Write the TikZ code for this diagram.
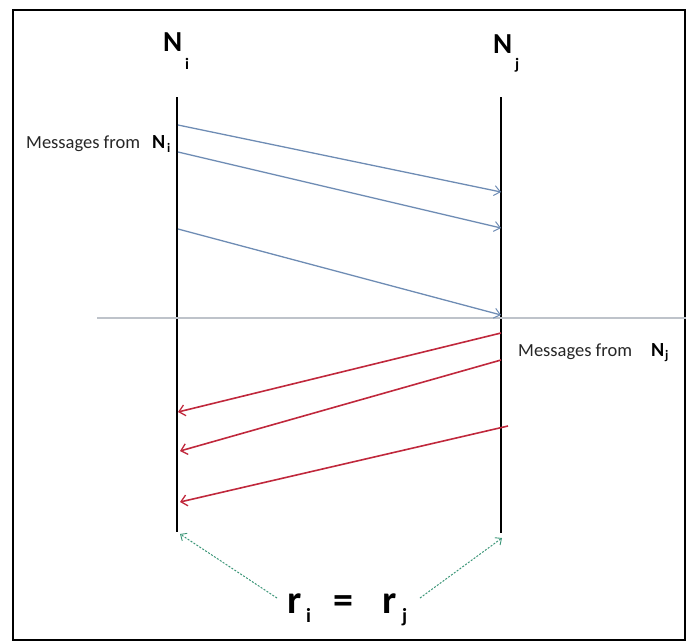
\documentclass[tikz,border=0pt]{standalone}
\usepackage{fontspec}
\setmainfont{Carlito}
\usetikzlibrary{arrows.meta}
\definecolor{msgblue}{RGB}{110,140,180}
\definecolor{msgred}{RGB}{192,40,60}
\definecolor{grn}{RGB}{60,150,120}
\definecolor{sep}{RGB}{190,195,202}
\begin{document}
\begin{tikzpicture}[x=1pt,y=-1pt,
  lifeline/.style={line width=2.3pt,black},
  bluemsg/.style={msgblue,line width=1.3pt,-{Straight Barb[length=6pt,width=10pt,line width=1pt]}},
  redmsg/.style={msgred,line width=1.6pt,-{Straight Barb[length=6pt,width=11pt,line width=1.3pt]}},
  grnarrow/.style={grn,line width=1pt,dash pattern=on 2pt off 1.5pt,-{Straight Barb[length=5pt,width=9pt,line width=0.9pt]}},
  lbl/.style={inner sep=0pt,font=\fontsize{18.5}{21}\selectfont,text=black!85},
  bigN/.style={inner sep=0pt,font=\bfseries\fontsize{29}{32}\selectfont},
  sub/.style={inner sep=0pt,font=\bfseries\fontsize{16}{18}\selectfont},
  midN/.style={inner sep=0pt,font=\bfseries\fontsize{20}{22}\selectfont},
  midsub/.style={inner sep=0pt,font=\bfseries\fontsize{13}{15}\selectfont},
  bigr/.style={inner sep=0pt,font=\bfseries\fontsize{40}{44}\selectfont},
  rsub/.style={inner sep=0pt,font=\bfseries\fontsize{20}{22}\selectfont}]
\useasboundingbox (0,0) rectangle (690,643);
\draw[line width=2.4pt] (13,10) rectangle (685,640);

% header labels
\node[bigN,anchor=base west] (Ni) at (163,51) {N};
\node[sub,anchor=base west] (Nisub) at (185,69) {i};
\node[bigN,anchor=base west] (Nj) at (493,53) {N};
\node[sub,anchor=base west] (Njsub) at (515,69) {j};

% lifelines
\coordinate (Ltop) at (177,97);
\coordinate (Lbot) at (177,532);
\coordinate (Rtop) at (501,97);
\coordinate (Rbot) at (501,533);
\draw[lifeline] (Ltop) -- (Lbot);
\draw[lifeline] (Rtop) -- (Rbot);

% separator
\coordinate (S1) at (97,318);
\coordinate (S2) at (686,318);
\draw[sep,line width=1.6pt] (S1) -- (S2);

% message labels
\node[lbl,anchor=base west] (mi) at (26,148) {Messages from};
\node[midN,anchor=base west] (miN) at (152,148) {N};
\node[midsub,anchor=base west] (miNs) at (167,152) {i};
\node[lbl,anchor=base west] (mj) at (518,356) {Messages from};
\node[midN,anchor=base west] (mjN) at (651,356) {N};
\node[midsub,anchor=base west] (mjNs) at (665,359) {j};

% blue messages
\coordinate (b1s) at (178,125); \coordinate (b1e) at (501,192);
\coordinate (b2s) at (178,152); \coordinate (b2e) at (501,228);
\coordinate (b3s) at (178,229); \coordinate (b3e) at (501,315);
\draw[bluemsg] (b1s) -- (b1e);
\draw[bluemsg] (b2s) -- (b2e);
\draw[bluemsg] (b3s) -- (b3e);

% red messages
\coordinate (r1s) at (501,333); \coordinate (r1e) at (178,412);
\coordinate (r2s) at (501,360); \coordinate (r2e) at (180,451);
\coordinate (r3s) at (508,426); \coordinate (r3e) at (180,502);
\draw[redmsg] (r1s) -- (r1e);
\draw[redmsg] (r2s) -- (r2e);
\draw[redmsg] (r3s) -- (r3e);

% r_i = r_j
\node[bigr,anchor=base west] (ri) at (287,613) {r};
\node[rsub,anchor=base west] (ris) at (306,622) {i};
\node[bigr,anchor=base west] (eq) at (333,613) {=};
\node[bigr,anchor=base west] (rj) at (382,613) {r};
\node[rsub,anchor=base west] (rjs) at (402,622) {j};

\coordinate (gL) at (277,598);
\coordinate (gR) at (420,598);
\coordinate (gLe) at (180,534);
\coordinate (gRe) at (502,538);
\draw[grnarrow] (gL) -- (gLe);
\draw[grnarrow] (gR) -- (gRe);
\end{tikzpicture}
\end{document}
